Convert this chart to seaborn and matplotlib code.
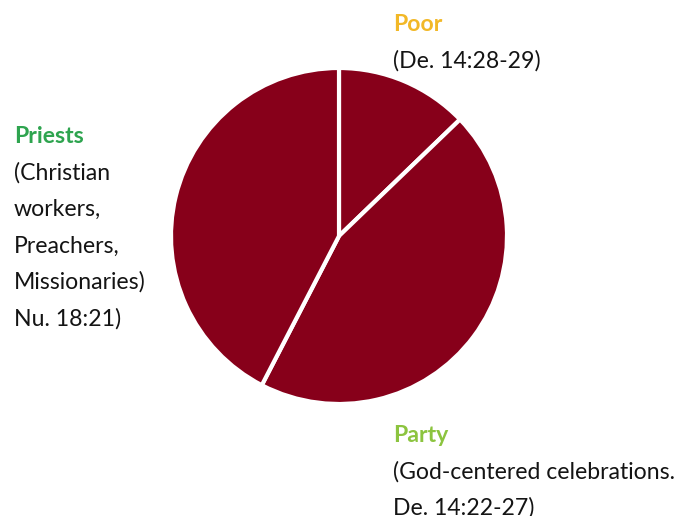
import seaborn as sns
import matplotlib.pyplot as plt

# tithe split (clockwise from 12 o'clock)
categories = ["Poor", "Party", "Priests"]
shares = [12.8, 44.8, 42.4]
wedge_color = "#87001a"

title_colors = {"Poor": "#f2b827", "Party": "#8cc43f", "Priests": "#2ea44f"}
label_lines = {
    "Poor": ["(De. 14:28-29)"],
    "Priests": ["(Christian", "workers,", "Preachers,", "Missionaries)", "Nu. 18:21)"],
    "Party": ["(God-centered celebrations.", "De. 14:22-27)"],
}
# anchor (left x, first baseline y) in pixels from top-left
label_pos = {"Poor": (393, 31), "Priests": (14, 143), "Party": (393, 442)}

sns.set_theme(style="white")
plt.rcParams["font.family"] = ["Lato", "DejaVu Sans"]

W, H = 699, 516
fig = plt.figure(figsize=(W / 100, H / 100), dpi=100)
fig.patch.set_facecolor("white")

cx, cy, r = 339, 236, 168
ax = fig.add_axes([(cx - r) / W, (H - cy - r) / H, 2 * r / W, 2 * r / H])
ax.pie(
    shares,
    colors=[wedge_color] * len(shares),
    startangle=90,
    counterclock=False,
    wedgeprops=dict(edgecolor="white", linewidth=3),
)
ax.set_xlim(-1, 1)
ax.set_ylim(-1, 1)
ax.set_aspect("equal")
ax.axis("off")

step = 36.5
fs = 16.6
for name in categories:
    x, y = label_pos[name]
    fig.text(x / W, 1 - y / H, name, color=title_colors[name], fontsize=fs,
             fontweight="bold", va="baseline", ha="left")
    for i, line in enumerate(label_lines[name], start=1):
        fig.text(x / W, 1 - (y + i * step) / H, line, color="#141414",
                 fontsize=fs, va="baseline", ha="left")

fig.savefig("out.png", dpi=100, facecolor="white")
plt.close(fig)
